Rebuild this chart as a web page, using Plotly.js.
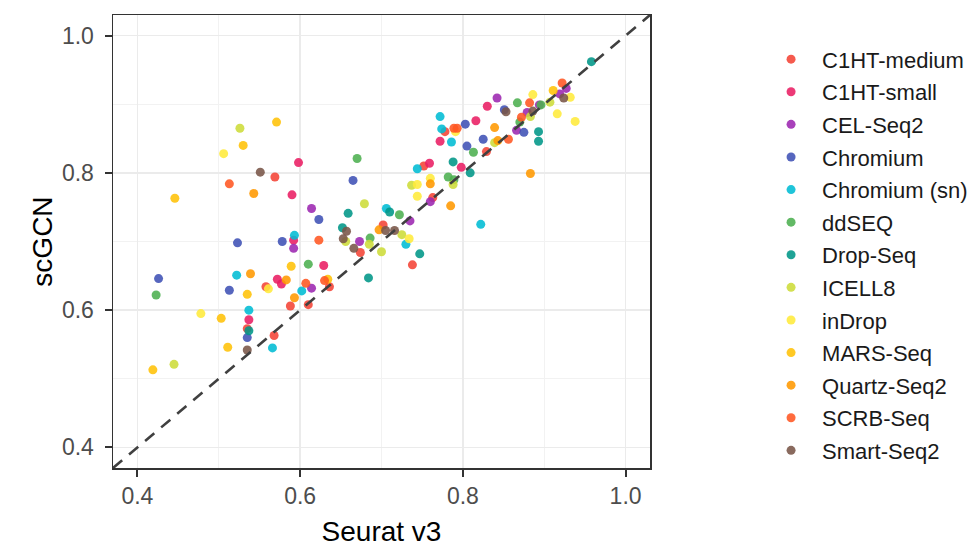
<!DOCTYPE html>
<html>
<head>
<meta charset="utf-8">
<script src="https://cdn.plot.ly/plotly-3.0.1.min.js"></script>
<style>html,body{margin:0;padding:0;background:#fff;}#chart{width:967px;height:548px;}</style>
</head>
<body>
<div id="chart"></div>
<script>
// ---- data (Seurat v3 accuracy on x, scGCN accuracy on y) ----
const methods = ["C1HT-medium","C1HT-small","CEL-Seq2","Chromium","Chromium (sn)","ddSEQ","Drop-Seq","ICELL8","inDrop","MARS-Seq","Quartz-Seq2","SCRB-Seq","Smart-Seq2"];
const colors = ["#F44336","#E91E63","#9C27B0","#3F51B5","#00BCD4","#4CAF50","#009688","#CDDC39","#FFEB3B","#FFC107","#FF9800","#FF5722","#795548"];

const xC1HTmedium = [0.569,0.568,0.558,0.588,0.610,0.636,0.674,0.702,0.738,0.752,0.763,0.778,0.829,0.535];
const yC1HTmedium = [0.794,0.563,0.634,0.606,0.608,0.634,0.684,0.724,0.666,0.810,0.764,0.860,0.831,0.573];

const xC1HTsmall = [0.590,0.598,0.572,0.577,0.537,0.592,0.629,0.759,0.772,0.798,0.816,0.830];
const yC1HTsmall = [0.768,0.815,0.645,0.638,0.586,0.702,0.665,0.814,0.846,0.808,0.876,0.897];

const xCELSeq2 = [0.614,0.592,0.614,0.673,0.735,0.760,0.842,0.866,0.879,0.894,0.919,0.927];
const yCELSeq2 = [0.748,0.690,0.632,0.700,0.730,0.758,0.909,0.862,0.888,0.899,0.915,0.923];

const xChromium = [0.426,0.513,0.535,0.523,0.578,0.623,0.665,0.803,0.805,0.825,0.851,0.875];
const yChromium = [0.646,0.629,0.560,0.698,0.700,0.732,0.789,0.871,0.839,0.849,0.892,0.859];

const xChromiumSn = [0.522,0.537,0.566,0.593,0.602,0.706,0.730,0.744,0.772,0.774,0.786,0.822];
const yChromiumSn = [0.651,0.600,0.545,0.709,0.628,0.748,0.696,0.806,0.882,0.864,0.845,0.725];

const xddSEQ = [0.423,0.610,0.670,0.686,0.722,0.782,0.789,0.813,0.867,0.870,0.896];
const yddSEQ = [0.622,0.667,0.821,0.705,0.739,0.794,0.790,0.830,0.902,0.874,0.899];

const xDropSeq = [0.537,0.652,0.659,0.684,0.710,0.747,0.788,0.809,0.893,0.893,0.958];
const yDropSeq = [0.570,0.720,0.741,0.647,0.743,0.682,0.816,0.800,0.860,0.846,0.962];

const xICELL8 = [0.526,0.445,0.656,0.679,0.685,0.700,0.725,0.737,0.788,0.839,0.883,0.907];
const yICELL8 = [0.865,0.521,0.700,0.755,0.696,0.685,0.710,0.782,0.783,0.844,0.882,0.903];

const xinDrop = [0.506,0.478,0.561,0.734,0.744,0.760,0.744,0.791,0.886,0.916,0.932,0.938];
const yinDrop = [0.828,0.595,0.631,0.704,0.783,0.792,0.766,0.860,0.914,0.886,0.910,0.875];

const xMARSSeq = [0.571,0.530,0.446,0.535,0.589,0.503,0.511,0.419,0.634,0.911];
const yMARSSeq = [0.874,0.840,0.763,0.623,0.664,0.588,0.546,0.513,0.645,0.920];

const xQuartzSeq2 = [0.543,0.539,0.583,0.593,0.697,0.760,0.785,0.839,0.843,0.883];
const yQuartzSeq2 = [0.770,0.653,0.644,0.618,0.717,0.784,0.752,0.866,0.847,0.799];

const xSCRBSeq = [0.513,0.623,0.607,0.630,0.789,0.793,0.856,0.872,0.882,0.922];
const ySCRBSeq = [0.784,0.702,0.639,0.643,0.865,0.865,0.849,0.881,0.902,0.931];

const xSmartSeq2 = [0.551,0.535,0.657,0.653,0.666,0.705,0.716,0.886,0.924,0.853];
const ySmartSeq2 = [0.801,0.542,0.715,0.704,0.690,0.716,0.716,0.890,0.909,0.889];

const xTicks = [0.4,0.6,0.8,1.0];
const tickText = ["0.4","0.6","0.8","1.0"];
const axisRange = [0.37,1.03];
const identityLine = [0.37,1.03];

const seriesX = [xC1HTmedium,xC1HTsmall,xCELSeq2,xChromium,xChromiumSn,xddSEQ,xDropSeq,xICELL8,xinDrop,xMARSSeq,xQuartzSeq2,xSCRBSeq,xSmartSeq2];
const seriesY = [yC1HTmedium,yC1HTsmall,yCELSeq2,yChromium,yChromiumSn,yddSEQ,yDropSeq,yICELL8,yinDrop,yMARSSeq,yQuartzSeq2,ySCRBSeq,ySmartSeq2];

const traces = methods.map((m,i)=>({
  type:'scatter', mode:'markers', name:m, legendgroup:m,
  x: seriesX[i], y: seriesY[i],
  marker:{color:colors[i], size:9, opacity:0.88, line:{width:0}},
  hoverinfo:'x+y+name'
}));
traces.push({
  type:'scatter', mode:'lines', x: identityLine, y: identityLine,
  line:{color:'#404040', width:2.6, dash:'12px,9px'},
  showlegend:false, hoverinfo:'skip'
});

const axisCommon = {
  range: axisRange, autorange:false,
  tickvals: xTicks, ticktext: tickText,
  ticks:'outside', ticklen:7, tickwidth:2, tickcolor:'#333333',
  tickfont:{family:'Liberation Sans, Arial, sans-serif', size:23, color:'#4D4D4D'},
  showgrid:true, gridcolor:'#EBEBEB', gridwidth:1.8,
  minor:{dtick:0.1, tick0:0.4, showgrid:true, gridcolor:'#F2F2F2', gridwidth:1.2, ticks:''},
  zeroline:false, showline:true, mirror:true, linecolor:'#333333', linewidth:1.5,
  automargin:false
};

const layout = {
  width:967, height:548,
  margin:{l:113, r:317, t:15, b:80},
  paper_bgcolor:'#ffffff', plot_bgcolor:'#ffffff',
  font:{family:'Liberation Sans, Arial, sans-serif', color:'#000'},
  xaxis: Object.assign({}, axisCommon, {
    title:{text:'Seurat v3', font:{size:28, color:'#000'}, standoff:13}
  }),
  yaxis: Object.assign({}, axisCommon, {
    ticklabelstandoff:6,
    title:{text:'scGCN', font:{size:28, color:'#000'}, standoff:1}
  }),
  showlegend:true,
  legend:{
    xref:'container', yref:'container', x:0.786, y:0.93, xanchor:'left', yanchor:'top',
    font:{size:22, color:'#1a1a1a'}, tracegroupgap:1, itemwidth:52, maxheight:520,
    bgcolor:'rgba(0,0,0,0)', borderwidth:0
  }
};

Plotly.newPlot('chart', traces, layout, {displayModeBar:false, staticPlot:true});
</script>
</body>
</html>
